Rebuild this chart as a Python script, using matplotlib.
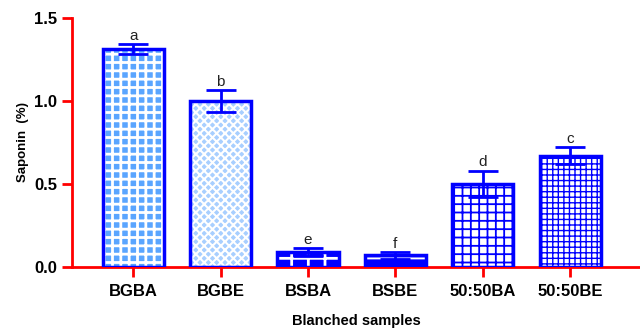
import matplotlib.pyplot as plt
import numpy as np

plt.rcParams['font.family'] = ['Liberation Sans', 'DejaVu Sans']

samples = ['BGBA', 'BGBE', 'BSBA', 'BSBE', '50:50BA', '50:50BE']
saponin = [1.31, 1.00, 0.09, 0.07, 0.50, 0.67]
sd = [0.03, 0.065, 0.025, 0.02, 0.08, 0.05]
letters = ['a', 'b', 'e', 'f', 'd', 'c']

faces = ['#5aa5ff', '#a8cfff', '#0000ff', '#0000ff', 'white', 'white']
hatch_cols = ['white', 'white', 'white', 'white', '#0000ff', '#0000ff']
hatches = ['++', 'xxxx', '+', '-', '++', '+++']
hatch_lw = [2.0, 1.5, 2.0, 1.5, 1.3, 1.0]

fig = plt.figure(figsize=(6.4, 3.31), dpi=100)
ax = fig.add_axes([0.1125, 0.193, 0.8875, 0.753])

x = np.arange(len(samples))
for i in range(len(samples)):
    with plt.rc_context({'hatch.linewidth': hatch_lw[i]}):
        ax.bar(x[i], saponin[i], width=0.7, color=faces[i], edgecolor=hatch_cols[i],
               hatch=hatches[i], linewidth=0, zorder=2)
    ax.bar(x[i], saponin[i], width=0.7, facecolor='none', edgecolor='#0000ff',
           linewidth=2.5, zorder=3)
ax.errorbar(x, saponin, yerr=sd, fmt='none', ecolor='#0000ff', elinewidth=2,
            capsize=11, capthick=2, zorder=4)
for i in range(len(samples)):
    ax.text(x[i], saponin[i] + sd[i] + 0.008, letters[i], ha='center', va='bottom',
            fontsize=11, color='#222222')

ax.set_xlim(-0.7, 5.8)
ax.set_ylim(0, 1.5)
ax.set_yticks([0.0, 0.5, 1.0, 1.5])
ax.set_yticklabels(['0.0', '0.5', '1.0', '1.5'], fontweight='bold', fontsize=12)
ax.set_xticks(x)
ax.set_xticklabels(samples, fontweight='bold', fontsize=12)
for s in ['top', 'right']:
    ax.spines[s].set_visible(False)
for s in ['left', 'bottom']:
    ax.spines[s].set_color('red')
    ax.spines[s].set_linewidth(2)
ax.tick_params(axis='both', colors='red', width=2, length=7, labelcolor='black')
ax.tick_params(axis='x', pad=5)
ax.set_ylabel('Saponin  (%)', fontweight='bold', fontsize=9.5, labelpad=4)
ax.set_xlabel('Blanched samples', fontweight='bold', fontsize=10.5, labelpad=11)

plt.savefig('out.png', dpi=100)
